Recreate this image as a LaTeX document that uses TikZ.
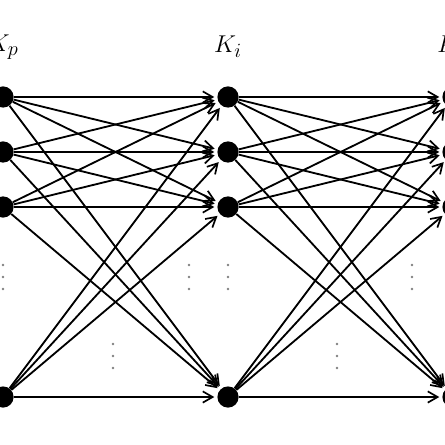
\documentclass[tikz,border=0pt]{standalone}
\usepackage{tikz}
\usetikzlibrary{arrows.meta,calc}

\begin{document}
\begin{tikzpicture}[x=0.025cm,y=-0.025cm,
    neuron/.style={circle,fill=black,inner sep=0pt,minimum size=0.53cm},
    link/.style={line width=1.3pt,shorten >=2pt,
      -{Straight Barb[length=7pt,width=8pt,line width=1.2pt]}}]
    \def\ix{225}\def\ox{3}
    \useasboundingbox (0,0) rectangle (445,445);
    \clip (0,0) rectangle (445,445);
    % Draw layers
    \foreach \c/\l in {0/p,1/i,2/d} {
      \foreach \r/\y in {1/97,2/152,3/207,4/397}
        \node[neuron] (\l\r) at (\ox+\c*\ix,\y) {};
      \node (lab\l) at ($ (\l1)+(0,-50) $) {\fontsize{19}{22}\selectfont$K_\l$};
    }
    % Draw connections
    \foreach \a in {1,...,4}
      \foreach \b in {1,...,4} {
        \draw [link] (p\a) -- (i\b);
        \draw [link] (i\a) -- (d\b);
      }
    % Draw dots
    \foreach \x/\y in {3/265,189/265,228/265,412/265,113/344,337/344}
      \foreach \k in {0,1,2}
        \fill [gray] (\x,\y+12*\k) circle (0.9pt);
\end{tikzpicture}
\end{document}
